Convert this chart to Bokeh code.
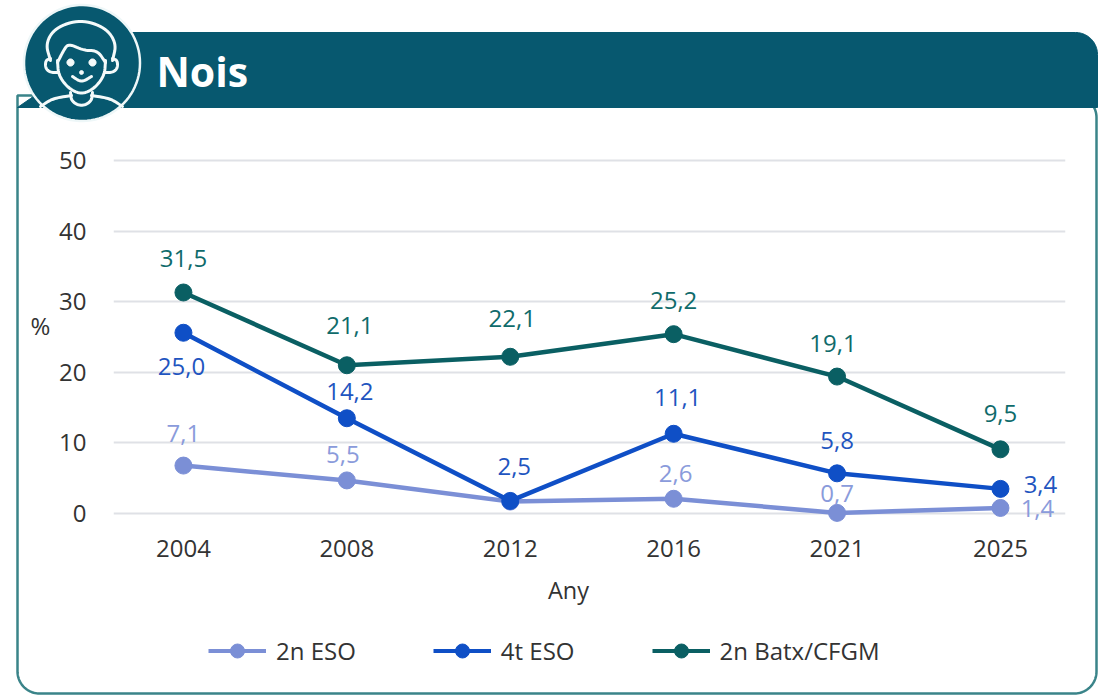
import numpy as np
from bokeh.plotting import figure
from bokeh.layouts import column
from bokeh.embed import file_html
from bokeh.resources import INLINE
from bokeh.core.properties import value
from bokeh.models import Legend, LegendItem, FixedTicker, Range1d, ColumnDataSource

years = ["2004", "2008", "2012", "2016", "2021", "2025"]
eso2 = [6.8, 4.7, 1.7, 2.1, 0.1, 0.8]
eso4 = [25.6, 13.5, 1.8, 11.3, 5.7, 3.5]
batx = [31.3, 21.0, 22.2, 25.4, 19.4, 9.1]
eso2_labels = ["7,1", "5,5", "", "2,6", "0,7", "1,4"]
eso4_labels = ["25,0", "14,2", "2,5", "11,1", "5,8", "3,4"]
batx_labels = ["31,5", "21,1", "22,1", "25,2", "19,1", "9,5"]
y_ticks = [0, 10, 20, 30, 40, 50]

FONT = "Open Sans"
TEAL = "#07586f"
WHITE = "#f4fafa"
INK = "#333333"
x_pos = list(range(len(years)))

series = [
    ("2n ESO", eso2, eso2_labels, "#7b8fd6", "#8a9bdb",
     [-32, -26, 0, -25, -19, 1], [0, -4, 0, 2, 0, 37]),
    ("4t ESO", eso4, eso4_labels, "#0f4fc6", "#1f55c0",
     [34, -27, -34, -36, -33, -4], [-2, 3, 4, 4, 0, 40]),
    ("2n Batx/CFGM", batx, batx_labels, "#0a5f63", "#0f6b6b",
     [-34, -40, -38, -34, -33, -36], [0, 3, 2, 0, -4, 0]),
]

# ---- back layer: card, header, avatar, titles, legend (units are page pixels)
bg = figure(width=1102, height=695, output_backend="svg", toolbar_location=None,
            x_range=Range1d(0, 1102), y_range=Range1d(695, 0),
            x_axis_location=None, y_axis_location=None, min_border=0, frame_align=False,
            outline_line_color=None, background_fill_color="white", border_fill_color="white")
bg.grid.visible = False

def arc(cx, cy, rx, ry, a0, a1, n=24):
    t = np.radians(np.linspace(a0, a1, n))
    return list(cx + rx*np.cos(t)), list(cy + ry*np.sin(t))

cx, cy = [17.0, 1074.0], [95.0, 95.0]
for c in [(1074, 117, -90, 0), (1074, 671, 0, 90), (39, 671, 90, 180)]:
    ax, ay = arc(c[0], c[1], 22, 22, c[2], c[3]); cx += ax; cy += ay
bg.patch(cx, cy, fill_color="white", line_color="#3a8489", line_width=2.5)

hx, hy = [17.0, 30.0, 120.0], [107.0, 98.0, 32.0]
ax, ay = arc(1075, 54, 22, 22, -90, 0); hx += ax; hy += ay
hx += [1097.0]; hy += [107.0]
bg.patch(hx, hy, fill_color=TEAL, line_color=TEAL, line_width=1)

def smooth(pts, it=3):
    a = np.array(pts, float)
    for _ in range(it):
        q = 0.75*a[:-1] + 0.25*a[1:]
        r = 0.25*a[:-1] + 0.75*a[1:]
        b = np.empty((2*len(q), 2))
        b[0::2], b[1::2] = q, r
        a = np.vstack([a[0], b, a[-1]])
    return a

def stroke(pts, w=3):
    a = smooth(pts)
    bg.line(a[:, 0], a[:, 1], line_color=WHITE, line_width=w, line_cap="round", line_join="round")

def disc(x, y, r):
    xs, ys = arc(x, y, r, r, 0, 360, 60)
    bg.patch(xs, ys, fill_color=WHITE, line_color=WHITE, line_width=1)

xs, ys = arc(81.5, 62.5, 58, 58, 0, 360, 90)
bg.patch(xs, ys, fill_color=TEAL, line_color="#eef7f8", line_width=2.5)
stroke([(50, 60), (45, 43), (55, 27), (80, 19), (105, 27), (116, 43), (112, 60)])
stroke([(57, 62), (63, 50), (68, 43), (83, 50), (97, 50), (105, 62)])
stroke([(57, 60), (58, 75), (68, 88), (81, 94), (94, 88), (104, 75), (105, 60)])
stroke([(50, 58), (45, 60), (45, 68), (50, 72), (58, 72)])
stroke([(112, 58), (117, 60), (117, 68), (112, 72), (104, 72)])
disc(70, 62, 3.6); disc(92, 62, 3.6); disc(81, 72, 2)
stroke([(72, 76), (81, 82), (91, 76)])
stroke([(70, 92), (71, 101), (81, 106), (91, 101), (92, 92)])
stroke([(40, 106), (52, 98), (71, 95)])
stroke([(122, 106), (110, 98), (91, 95)])

bg.text([156], [70], text=["Nois"], text_color="white", text_font=value(FONT),
        text_font_style="bold", text_font_size="41px", text_baseline="middle")
bg.text([40], [325], text=["%"], text_color=INK, text_font=value(FONT), text_font_size="24px",
        text_align="center", text_baseline="middle")
bg.text([568], [589], text=["Any"], text_color=INK, text_font=value(FONT), text_font_size="23.5px",
        text_align="center", text_baseline="middle")

leg_items = []
for name, vals, labs, col, tcol, dy, dx in series:
    # legend proxies: they lie off the canvas, only their key is seen
    ln = bg.line([-60, -40], [-60, -60], line_color=col, line_width=4)
    mk = bg.scatter([-50], [-60], size=14, marker="circle", fill_color=col, line_color=col)
    leg_items.append(LegendItem(label=name, renderers=[ln, mk], index=0))
bg.add_layout(Legend(items=leg_items, orientation="horizontal", location=(208, 27),
                     background_fill_alpha=0, border_line_color=None, glyph_width=58, glyph_height=35,
                     spacing=77, padding=0, margin=0, label_standoff=10, label_text_font=FONT,
                     label_text_font_size="24px", label_text_color=INK), "center")

# ---- front layer: the chart, transparent, laid exactly over the back layer
p = figure(width=1102, height=695, output_backend="svg", toolbar_location=None,
           x_range=Range1d(-0.428, 5.398), y_range=Range1d(-1.4, 51.4),
           min_border_left=113, min_border_right=37, min_border_top=150, min_border_bottom=172,
           margin=(-695, 0, 0, 0), frame_align=False, background_fill_color=None, border_fill_color=None,
           outline_line_color=None)

p.xaxis.ticker = FixedTicker(ticks=x_pos)
p.xaxis.major_label_overrides = {i: y for i, y in enumerate(years)}
p.yaxis.ticker = FixedTicker(ticks=y_ticks)
for a_ in (p.xaxis, p.yaxis):
    a_.axis_line_color = None
    a_.major_tick_line_color = None
    a_.minor_tick_line_color = None
    a_.major_label_text_font = FONT
    a_.major_label_text_font_size = "24px"
    a_.major_label_text_color = INK
p.xaxis.major_label_standoff = 10
p.yaxis.major_label_standoff = 21
p.xgrid.visible = False
p.ygrid.ticker = FixedTicker(ticks=y_ticks)
p.ygrid.grid_line_color = "#dfe1e6"
p.ygrid.grid_line_width = 2

sources = []
for name, vals, labs, col, tcol, dy, dx in series:
    src = ColumnDataSource(dict(x=x_pos, y=vals, t=labs, dx=dx, dy=dy))
    p.line("x", "y", source=src, line_color=col, line_width=4.5)
    p.scatter("x", "y", source=src, size=17, marker="circle", fill_color=col, line_color=col)
    sources.append((src, tcol))
for src, tcol in sources:
    p.text("x", "y", text="t", source=src, x_offset="dx", y_offset="dy", text_color=tcol,
           text_font=value(FONT), text_font_size="24px", text_align="center", text_baseline="middle")

open("out.html", "w").write(file_html(column(bg, p, spacing=0), INLINE))
